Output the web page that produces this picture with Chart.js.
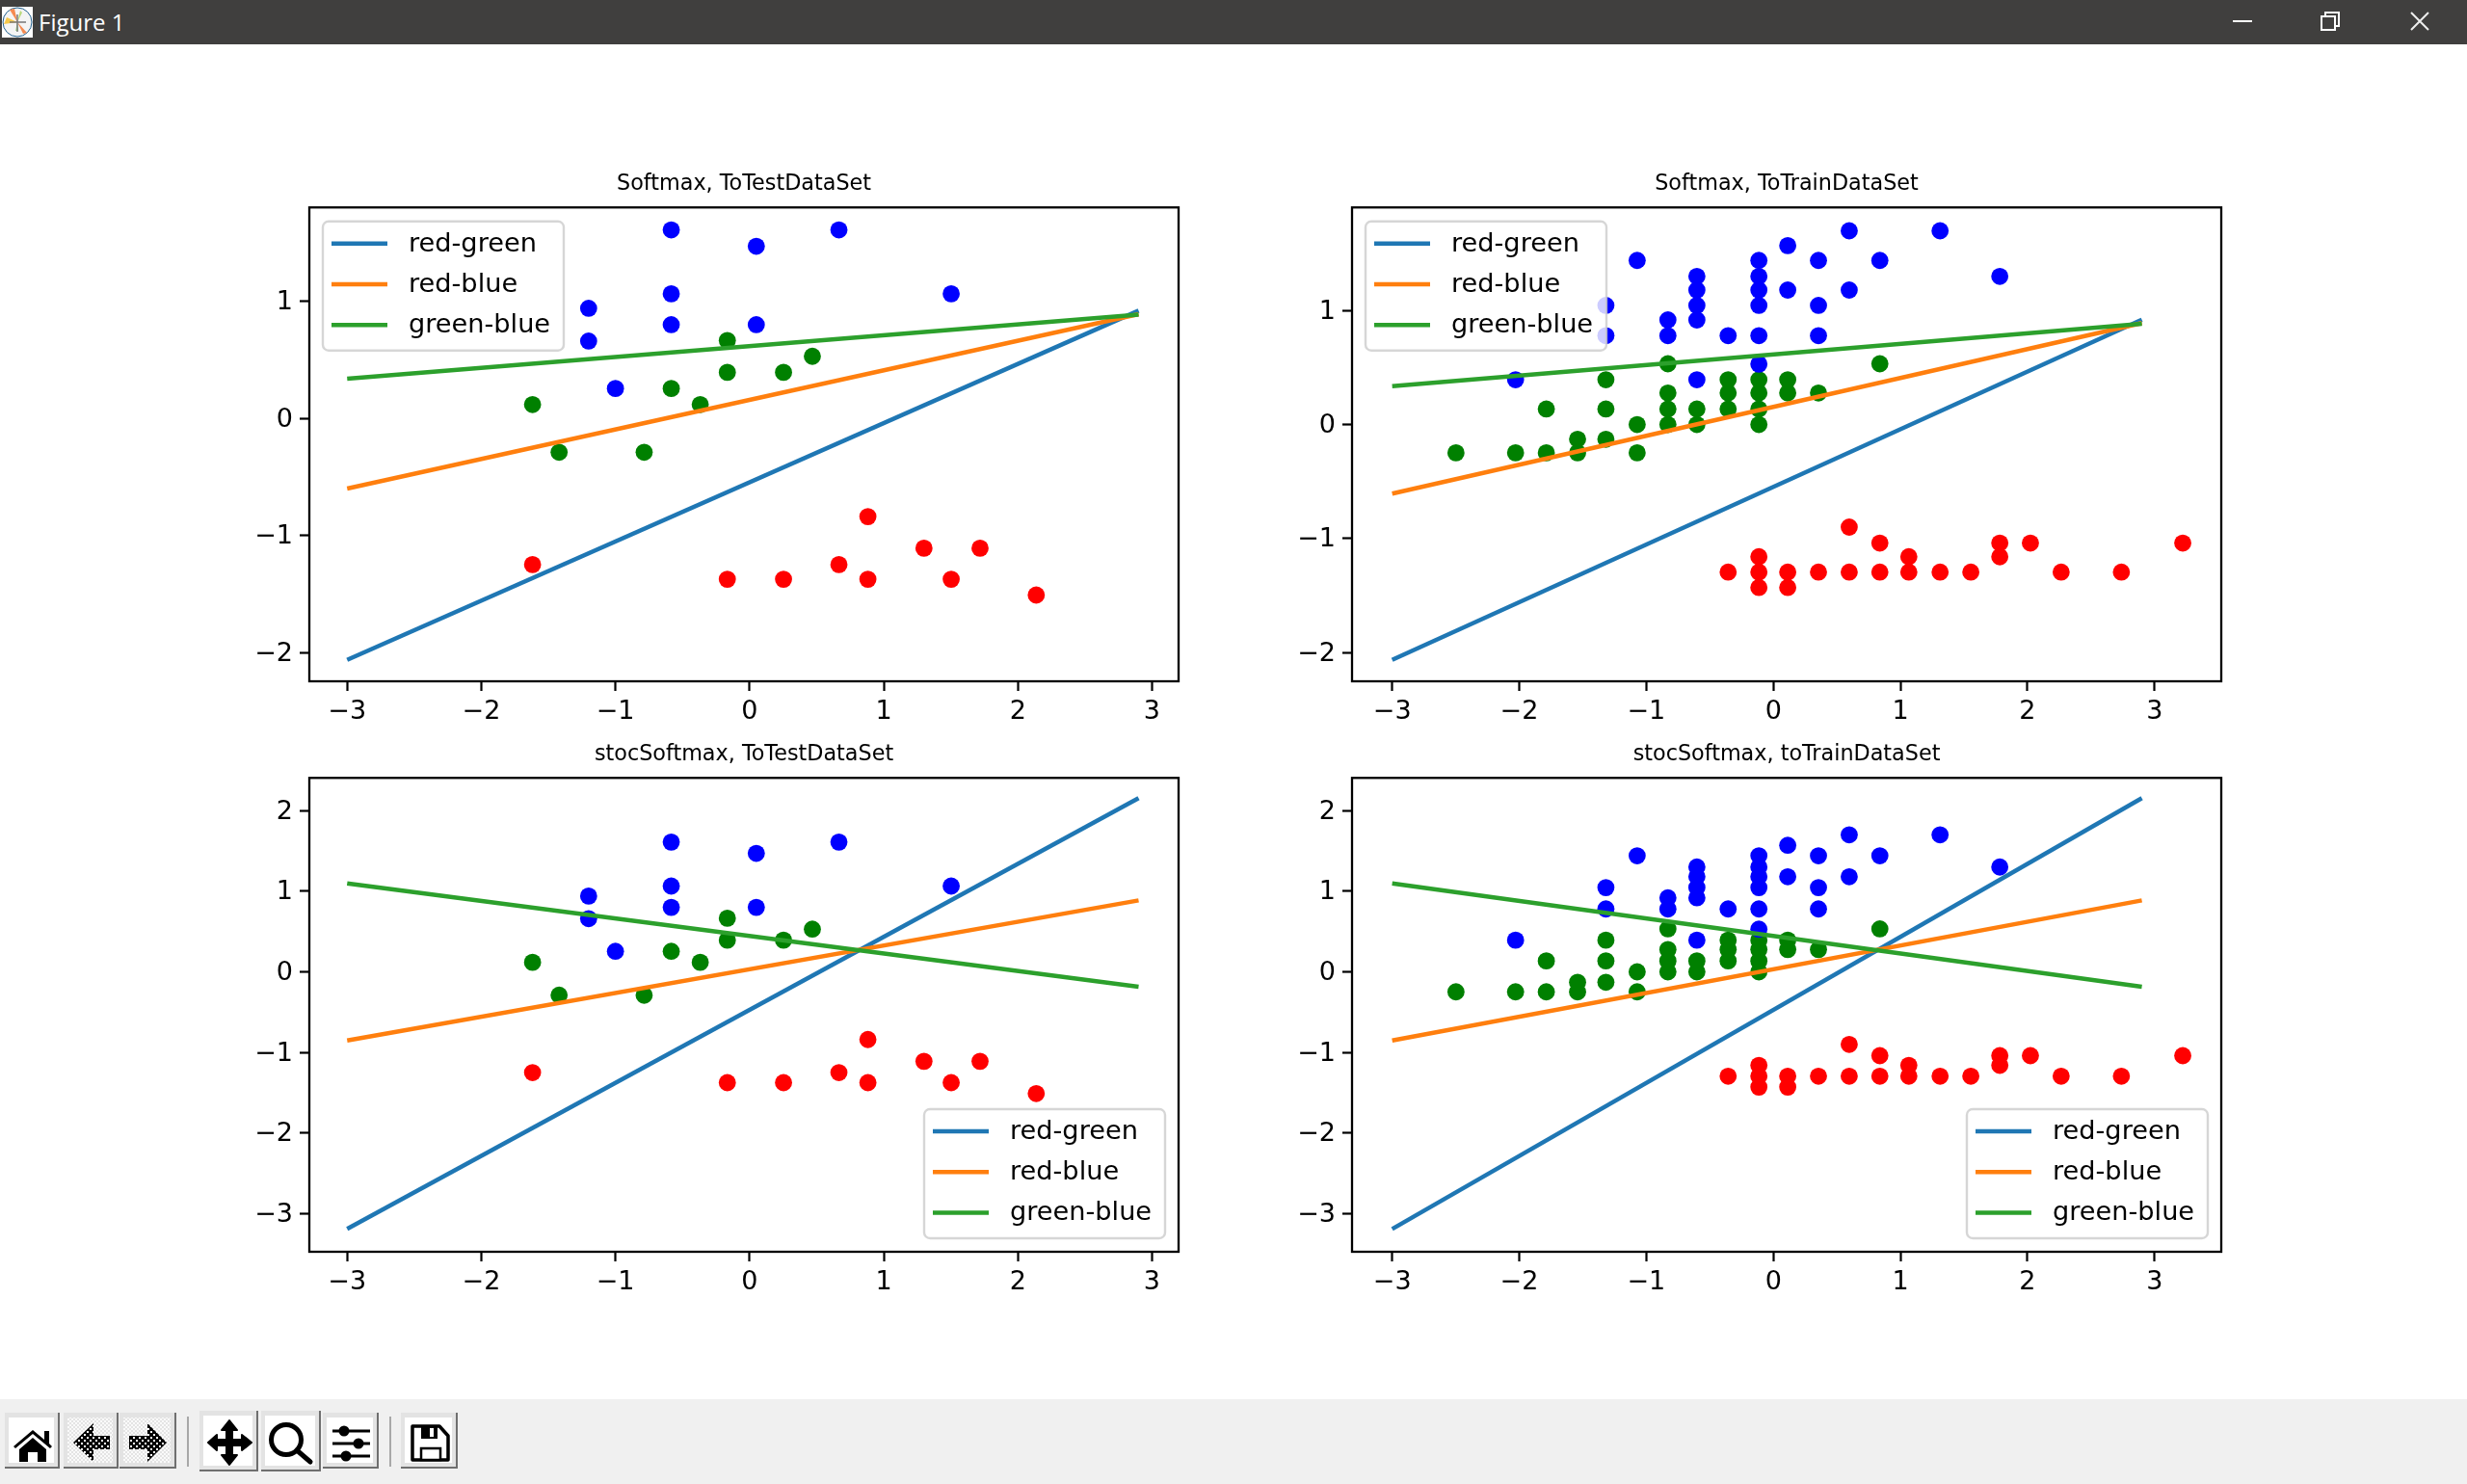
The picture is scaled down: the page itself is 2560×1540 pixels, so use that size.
<!DOCTYPE html>
<html>
<head>
<meta charset="utf-8">
<title>Figure 1</title>
<script src="https://cdn.jsdelivr.net/npm/chart.js@4"></script>
<style>
  html, body { margin: 0; padding: 0; background: #fff; width: 2560px; height: 1540px; overflow: hidden; }
  #titlebar { position: absolute; left: 0; top: 0; width: 2560px; height: 46px; background: #403f3e; }
  #titletext { position: absolute; left: 40px; top: 5px; font: 24px "Open Sans", sans-serif; color: #fff; line-height: 36px; }
  #toolbar { position: absolute; left: 0; top: 1452px; width: 2560px; height: 88px; background: #f0f0f0; }
  canvas { position: absolute; }
  svg { position: absolute; left: 0; top: 0; }
</style>
</head>
<body>
<div id="titlebar">
  <svg width="2560" height="46">
    <rect x="2" y="7" width="32" height="32" fill="#fff"/>
    <circle cx="18" cy="23" r="15" fill="#f4f4f4" stroke="#1f5f8f" stroke-width="1"/>
    <path d="M18 23 L10 10 L15 9 Z" fill="#f58a50"/>
    <path d="M18 23 L4 25 L7 18 Z" fill="#f5c84a"/>
    <path d="M18 23 L23 13 L21 11 Z" fill="#b8d878"/>
    <path d="M18 23 L28 34 L24 35 Z" fill="#f58a50"/>
    <path d="M18 23 L16 32 L19 32 Z" fill="#a8e090"/>
    <path d="M10 23 L27 23 M18 15 L18 33" stroke="#777" stroke-width="1.5"/>
    <rect x="2317" y="21" width="20" height="2" fill="#fff"/>
    <rect x="2409" y="17" width="14" height="14" fill="none" stroke="#fff" stroke-width="2"/>
    <path d="M2413 17 V13 H2427 V27 H2423" fill="none" stroke="#fff" stroke-width="2"/>
    <path d="M2502 13 L2520 31 M2520 13 L2502 31" stroke="#eee" stroke-width="2"/>
  </svg>
  <div id="titletext">Figure 1</div>
</div>

<canvas id="c0"></canvas>
<canvas id="c1"></canvas>
<canvas id="c2"></canvas>
<canvas id="c3"></canvas>

<div id="toolbar"></div>
<svg width="2560" height="1540" style="pointer-events:none">
  <defs>
    <pattern id="checker" width="6" height="6" patternUnits="userSpaceOnUse">
      <rect width="6" height="6" fill="#000"/>
      <rect x="3" width="2" height="2" fill="#fff"/>
      <rect y="3" width="2" height="2" fill="#fff"/>
    </pattern>
    <pattern id="dots" width="4" height="4" patternUnits="userSpaceOnUse">
      <rect width="4" height="4" fill="#fafafa"/>
      <rect width="2" height="2" fill="#e4e4e4"/>
      <rect x="2" y="2" width="2" height="2" fill="#e4e4e4"/>
    </pattern>
  </defs>
  <g id="buttons"></g>
  <rect x="194" y="1470" width="2" height="52" fill="#a8a8a8"/>
  <rect x="404" y="1470" width="2" height="52" fill="#a8a8a8"/>
  <!-- home -->
  <path d="M14 1501 L34 1484 L46 1494 V1485 H51 V1498 L54 1501 L52 1503 L34 1488 L16 1503 Z" fill="#000"/>
  <path d="M20 1504 L34 1492 L48 1504 V1517 H39 V1507 H29 V1517 H20 Z" fill="#000"/>
  <!-- back / forward -->
  <path d="M76 1497 L97 1477 V1490 H114 V1504 H97 V1517 Z" fill="url(#checker)"/>
  <path d="M173 1497 L153 1477 V1490 H134 V1504 H153 V1517 Z" fill="url(#checker)"/>
  <!-- move -->
  <path d="M238 1474 L246 1484 H241 V1494 H251 V1489 L261 1497 L251 1505 V1500 H241 V1510 H246 L238 1520 L230 1510 H235 V1500 H225 V1505 L216 1497 L225 1489 V1494 H235 V1484 H230 Z" fill="#000" stroke="#000" stroke-width="2" stroke-linejoin="round"/>
  <!-- zoom -->
  <circle cx="297" cy="1494" r="15.5" fill="none" stroke="#000" stroke-width="5"/>
  <path d="M308 1505 L322 1517" stroke="#000" stroke-width="5" stroke-linecap="round"/>
  <!-- sliders -->
  <path d="M345 1485 H384 M345 1498 H384 M345 1511 H384" stroke="#000" stroke-width="3"/>
  <circle cx="357" cy="1485" r="5.5"/><circle cx="372" cy="1498" r="5.5"/><circle cx="359" cy="1511" r="5.5"/>
  <!-- save -->
  <path d="M428 1480 H456 L465 1490 V1515 H428 Z" fill="#fff" stroke="#000" stroke-width="3.5" stroke-linejoin="round"/>
  <rect x="437" y="1480" width="17" height="13" fill="#000"/>
  <rect x="446" y="1482" width="4" height="9" fill="#fff"/>
  <rect x="437" y="1503" width="20" height="12" fill="#fff" stroke="#000" stroke-width="2.5"/>
</svg>

<script>
// scatter points, test data set
const testBlueX = [-0.584, 0.05, 0.666, -0.584, 1.503, -1.2, -0.584, 0.05, -1.2, -1.0];
const testBlueY = [1.61, 1.47, 1.61, 1.064, 1.064, 0.94, 0.8, 0.8, 0.66, 0.255];
const testGreenX = [-0.166, 0.468, -0.166, 0.253, -0.584, -1.618, -0.368, -1.42, -0.786];
const testGreenY = [0.665, 0.53, 0.393, 0.393, 0.255, 0.118, 0.118, -0.29, -0.29];
const testRedX = [0.882, 1.3, 1.718, -1.618, 0.666, -0.166, 0.253, 0.882, 1.503, 2.137];
const testRedY = [-0.84, -1.11, -1.11, -1.25, -1.25, -1.375, -1.375, -1.375, -1.375, -1.51];

// scatter points, train data set
const trainBlueX = [0.597, 1.312, 0.113, -1.072, -0.114, 0.355, 0.838, -0.602, -0.114, 1.782, -0.602, -0.114, 0.113, 0.597, -1.318, -0.602, -0.114, 0.355, -0.83, -0.602, -1.318, -0.83, -0.356, -0.114, 0.355, -0.114, -2.029, -0.602];
const trainBlueY = [1.7, 1.7, 1.57, 1.44, 1.44, 1.44, 1.44, 1.3, 1.3, 1.3, 1.18, 1.18, 1.18, 1.18, 1.045, 1.045, 1.045, 1.045, 0.918, 0.918, 0.78, 0.78, 0.78, 0.78, 0.78, 0.53, 0.393, 0.393];
const trainGreenX = [-0.83, 0.838, -1.318, -0.356, -0.114, 0.113, -0.83, -0.356, -0.114, 0.113, 0.355, -1.787, -1.318, -0.83, -0.602, -0.356, -0.114, -1.072, -0.83, -0.602, -0.114, -1.541, -1.318, -2.498, -2.029, -1.787, -1.541, -1.072];
const trainGreenY = [0.533, 0.533, 0.393, 0.393, 0.393, 0.393, 0.277, 0.277, 0.277, 0.277, 0.277, 0.136, 0.136, 0.136, 0.136, 0.136, 0.136, 0, 0, 0, 0, -0.129, -0.129, -0.248, -0.248, -0.248, -0.248, -0.248];
const trainRedX = [0.597, 0.838, 1.782, 2.023, 3.222, -0.114, 1.066, 1.782, -0.356, -0.114, 0.113, 0.355, 0.597, 0.838, 1.066, 1.312, 1.554, 2.265, 2.739, -0.114, 0.113];
const trainRedY = [-0.9, -1.04, -1.04, -1.04, -1.04, -1.16, -1.16, -1.16, -1.295, -1.295, -1.295, -1.295, -1.295, -1.295, -1.295, -1.295, -1.295, -1.295, -1.295, -1.43, -1.43];

// boundary lines, x ends are the same in every panel
const lineX = [-3, 2.9];
const softTestRG = [-2.064, 0.92];
const softTestRB = [-0.6, 0.89];
const softTestGB = [0.338, 0.887];
const softTrainRG = [-2.065, 0.92];
const softTrainRB = [-0.606, 0.89];
const softTrainGB = [0.336, 0.885];
const stocRG = [-3.19, 2.155];
const stocRB = [-0.851, 0.886];
const stocGB = [1.098, -0.184];

const titles = ["Softmax, ToTestDataSet", "Softmax, ToTrainDataSet", "stocSoftmax, ToTestDataSet", "stocSoftmax, toTrainDataSet"];
const lineLabels = ["red-green", "red-blue", "green-blue"];
const xTicks = [-3, -2, -1, 0, 1, 2, 3];
const yTicksSoft = [-2, -1, 0, 1];
const yTicksStoc = [-3, -2, -1, 0, 1, 2];

const lineColors = ["#1f77b4", "#ff7f0e", "#2ca02c"];
const font = "DejaVu Sans";
const axisW = 100, axisH = 60, titleH = 58;

function pts(xs, ys) {
  return xs.map((x, i) => ({ x: x, y: ys[i] }));
}

function dots(xs, ys, color) {
  return { data: pts(xs, ys), backgroundColor: color, borderColor: color, pointRadius: 8.9, pointBorderWidth: 0, order: 5 };
}

function line(ys, i) {
  return {
    label: lineLabels[i], data: pts(lineX, ys), showLine: true, pointRadius: 0,
    borderColor: lineColors[i], borderWidth: 4.5, borderCapStyle: "butt", order: 3 - i
  };
}

// frame round the axes and the matplotlib style legend
const framePlugin = {
  id: "frame",
  afterDatasetsDraw(chart, args, opts) {
    const ctx = chart.ctx, a = chart.chartArea;
    ctx.save();
    const w = 250, h = 134;
    const lx = opts.corner === "tl" ? a.left + 14 : a.right - 14 - w;
    const ly = opts.corner === "tl" ? a.top + 14.5 : a.bottom - 14 - h;
    ctx.beginPath();
    ctx.roundRect(lx, ly, w, h, 6);
    ctx.fillStyle = "rgba(255,255,255,0.8)";
    ctx.fill();
    ctx.strokeStyle = "rgba(204,204,204,0.8)";
    ctx.lineWidth = 2.4;
    ctx.stroke();
    ctx.font = "27.2px '" + font + "'";
    ctx.textBaseline = "middle";
    lineLabels.forEach((t, i) => {
      const y = ly + 23 + i * 42.2;
      ctx.strokeStyle = lineColors[i];
      ctx.lineWidth = 4.5;
      ctx.beginPath();
      ctx.moveTo(lx + 9, y);
      ctx.lineTo(lx + 67, y);
      ctx.stroke();
      ctx.fillStyle = "#000";
      ctx.fillText(t, lx + 89, y + 1);
    });
    ctx.strokeStyle = "#000";
    ctx.lineWidth = 2.3;
    ctx.strokeRect(a.left, a.top, a.right - a.left, a.bottom - a.top);
    ctx.restore();
  }
};

// y tick text sits a little lower in the reference
function nudgeLabels(s) {
  s.getLabelItems = function (area) {
    const items = Chart.Scale.prototype.getLabelItems.call(this, area);
    if (!items.nudged) {
      items.forEach(it => { it.textOffset += 1.5; });
      items.nudged = true;
    }
    return items;
  };
}

function makePanel(id, box, limits, yTicks, title, corner, sets) {
  const canvas = document.getElementById(id);
  canvas.width = box.w + axisW + 20;
  canvas.height = box.h + axisH + titleH;
  canvas.style.left = (box.x - axisW) + "px";
  canvas.style.top = (box.y - titleH) + "px";
  new Chart(canvas, {
    type: "scatter",
    data: { datasets: sets },
    plugins: [framePlugin],
    options: {
      responsive: false,
      animation: false,
      devicePixelRatio: 1,
      layout: { padding: { left: 0, right: 20, top: 0, bottom: 0 } },
      plugins: {
        legend: { display: false },
        tooltip: { enabled: false },
        title: {
          display: true, text: title, fullSize: false, color: "#000",
          font: { family: font, size: 22.3, weight: "normal", lineHeight: 1.2 },
          padding: { top: 20.5, bottom: 11 }
        },
        frame: { corner: corner }
      },
      scales: {
        x: {
          type: "linear", min: limits[0], max: limits[1],
          grid: { drawOnChartArea: false, drawTicks: true, tickLength: 10, tickWidth: 2.2, tickColor: "#000" },
          border: { display: false },
          afterBuildTicks: s => { s.ticks = xTicks.map(v => ({ value: v })); },
          afterFit: s => { s.height = axisH; },
          ticks: { color: "#000", font: { family: font, size: 27 }, padding: 6, maxRotation: 0, autoSkip: false,
            callback: v => String(v).replace("-", "\u2212") }
        },
        y: {
          type: "linear", min: limits[2], max: limits[3],
          grid: { drawOnChartArea: false, drawTicks: true, tickLength: 10, tickWidth: 2.2, tickColor: "#000" },
          border: { display: false },
          afterBuildTicks: s => { s.ticks = yTicks.map(v => ({ value: v })); },
          afterFit: s => { s.width = axisW; nudgeLabels(s); },
          ticks: { color: "#000", font: { family: font, size: 27 }, padding: 7, autoSkip: false,
            callback: v => String(v).replace("-", "\u2212") }
        }
      }
    }
  });
}

// small button outlines of the toolbar
const buttonBoxes = [[5, 1466, 57, 58, 0], [66, 1466, 57, 58, 1], [124, 1466, 59, 58, 1], [207, 1464, 61, 63, 0], [271, 1464, 62, 63, 0], [335, 1466, 58, 58, 0], [416, 1466, 59, 58, 0]];
let buttonSvg = "";
buttonBoxes.forEach(b => {
  buttonSvg += `<rect x="${b[0]}" y="${b[1]}" width="${b[2]}" height="${b[3]}" fill="#6f6f6f"/>`;
  buttonSvg += `<rect x="${b[0]}" y="${b[1]}" width="${b[2] - 2}" height="${b[3] - 2}" fill="#e3e3e3"/>`;
  buttonSvg += `<rect x="${b[0] + 4}" y="${b[1] + 5}" width="${b[2] - 10}" height="${b[3] - 11}" fill="${b[4] ? "url(#dots)" : "#fff"}"/>`;
});
document.getElementById("buttons").innerHTML = buttonSvg;

function sets(rg, rb, gb, bx, by, gx, gy, rx, ry) {
  return [line(rg, 0), line(rb, 1), line(gb, 2), dots(bx, by, "#0000ff"), dots(gx, gy, "#008000"), dots(rx, ry, "#ff0000")];
}

makePanel("c0", { x: 321, y: 215, w: 902, h: 492 }, [-3.282, 3.198, -2.247, 1.802], yTicksSoft, titles[0], "tl",
  sets(softTestRG, softTestRB, softTestGB, testBlueX, testBlueY, testGreenX, testGreenY, testRedX, testRedY));
makePanel("c1", { x: 1403, y: 215, w: 902, h: 492 }, [-3.316, 3.525, -2.253, 1.905], yTicksSoft, titles[1], "tl",
  sets(softTrainRG, softTrainRB, softTrainGB, trainBlueX, trainBlueY, trainGreenX, trainGreenY, trainRedX, trainRedY));
makePanel("c2", { x: 321, y: 807, w: 902, h: 492 }, [-3.282, 3.198, -3.473, 2.406], yTicksStoc, titles[2], "br",
  sets(stocRG, stocRB, stocGB, testBlueX, testBlueY, testGreenX, testGreenY, testRedX, testRedY));
makePanel("c3", { x: 1403, y: 807, w: 902, h: 492 }, [-3.316, 3.525, -3.473, 2.406], yTicksStoc, titles[3], "br",
  sets(stocRG, stocRB, stocGB, trainBlueX, trainBlueY, trainGreenX, trainGreenY, trainRedX, trainRedY));
</script>
</body>
</html>
